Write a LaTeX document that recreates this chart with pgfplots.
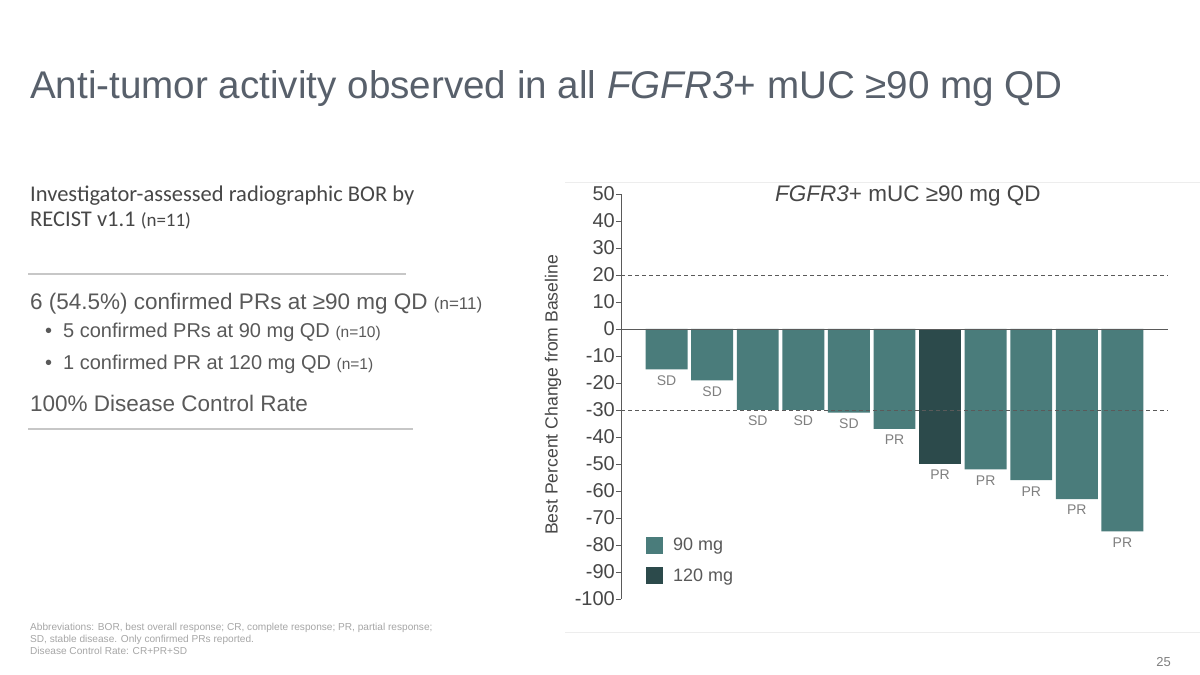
\documentclass[border=0pt]{standalone}
\usepackage{pgfplots}
\pgfplotsset{compat=1.18}
\usepackage{fontspec}
\setmainfont{Liberation Sans}
\newfontfamily\calibri{Carlito}
\definecolor{bar90}{HTML}{4A7C7B}
\definecolor{bar120}{HTML}{2C4A4B}
\definecolor{titlec}{HTML}{58606B}
\definecolor{txt}{HTML}{595959}
\definecolor{dark}{HTML}{474747}
\definecolor{axc}{HTML}{5A5A5A}
\definecolor{lbl}{HTML}{7F7F7F}
\definecolor{foot}{HTML}{A6A6A6}
\newcommand{\fs}[1]{\fontsize{#1bp}{#1bp}\selectfont}
\begin{document}
\begin{tikzpicture}
\useasboundingbox (0,0) rectangle (1200bp,675bp);
\fill[white] (0,0) rectangle (1200bp,675bp);
\begin{scope}[x=1bp,y=-1bp,shift={(0,675bp)}]
  \node[anchor=base west, inner sep=0, text=titlec] at (30,99) {\fs{38.6}Anti-tumor activity observed in all \textit{FGFR3}+ mUC ≥90 mg QD};
  \node[anchor=base west, inner sep=0, text=dark] at (30,202) {\calibri\fs{22.5}Investigator-assessed radiographic BOR by};
  \node[anchor=base west, inner sep=0, text=dark] at (30,227) {\calibri\fs{22.5}RECIST v1.1 {\fs{19}(n=11)}};
  \draw[black!22, line width=1.2bp] (28,274) -- (406,274);
  \node[anchor=base west, inner sep=0, text=txt] at (30,310) {\fs{22.5}6 (54.5\%) confirmed PRs at ≥90 mg QD {\fs{17}(n=11)}};
  \node[anchor=base west, inner sep=0, text=txt] at (45,338) {\fs{20}•};
  \node[anchor=base west, inner sep=0, text=txt] at (63,338) {\fs{20}5 confirmed PRs at 90 mg QD {\fs{15.5}(n=10)}};
  \node[anchor=base west, inner sep=0, text=txt] at (45,370) {\fs{20}•};
  \node[anchor=base west, inner sep=0, text=txt] at (63,370) {\fs{20}1 confirmed PR at 120 mg QD {\fs{15.5}(n=1)}};
  \node[anchor=base west, inner sep=0, text=txt] at (30,412) {\fs{22.5}100\% Disease Control Rate};
  \draw[black!22, line width=1.2bp] (28,429) -- (413,429);
  \node[anchor=base west, inner sep=0, text=foot] at (30,631) {\fs{10.1}Abbreviations: BOR, best overall response; CR, complete response; PR, partial response;};
  \node[anchor=base west, inner sep=0, text=foot] at (30,643) {\fs{10.1}SD, stable disease. Only confirmed PRs reported.};
  \node[anchor=base west, inner sep=0, text=foot] at (30,655) {\fs{10.1}Disease Control Rate: CR+PR+SD};
  \node[anchor=base east, inner sep=0, text=lbl] at (1171,667) {\fs{13}25};
  \draw[black!7, line width=1bp] (565,183) -- (1200,183);
  \draw[black!7, line width=1bp] (565,633) -- (1200,633);
  \node[anchor=base, inner sep=0, text=dark] at (908,202) {\fs{22.5}\textit{FGFR3}+ mUC ≥90 mg QD};
  \node[rotate=90, anchor=center, inner sep=0, text=dark] at (553,395) {\fs{17.6}Best Percent Change from Baseline};
\end{scope}
\begin{axis}[
  at={(621bp,76bp)}, anchor=south west,
  scale only axis, width=547bp, height=405bp,
  xmin=0, xmax=12, ymin=-100, ymax=50,
  axis x line=none, axis y line*=left,
  clip=false,
  y axis line style={axc, line width=0.9bp},
  ytick={-100,-90,-80,-70,-60,-50,-40,-30,-20,-10,0,10,20,30,40,50},
  yticklabels={-100,-90,-80,-70,-60,-50,-40,-30,-20,-10,0,10,20,30,40,50},
  tick align=outside, major tick length=5bp,
  ytick style={axc, line width=0.9bp},
  yticklabel style={font=\fs{20}, text=dark, inner sep=1bp},
  legend style={at={(0.0457,0.155)}, anchor=north west, draw=none, fill=none,
    font=\fs{18}, text=txt, inner sep=0pt, row sep=12bp,
    /tikz/every even column/.append style={column sep=0bp}},
  legend cell align=left,
]
\addplot[ybar, bar width=0.92, bar shift=0pt, fill=bar90, draw=none,
  point meta=explicit symbolic,
  nodes near coords,
  every node near coord/.append style={anchor=north, font=\fs{14}, text=lbl, inner sep=2bp, yshift=-4bp},
  legend image code/.code={\fill[bar90] (0bp,-8.5bp) rectangle (17bp,8.5bp);}]
  table[meta=lab] {
x y lab
1 -15 SD
2 -19 SD
3 -30 SD
4 -30 SD
5 -31 SD
6 -37 PR
8 -52 PR
9 -56 PR
10 -63 PR
11 -75 PR
};
\addlegendentry{\hspace{8bp}90 mg}
\addplot[ybar, bar width=0.92, bar shift=0pt, fill=bar120, draw=none,
  point meta=explicit symbolic,
  nodes near coords,
  every node near coord/.append style={anchor=north, font=\fs{14}, text=lbl, inner sep=2bp, yshift=-4bp},
  legend image code/.code={\fill[bar120] (0bp,-8.5bp) rectangle (17bp,8.5bp);}]
  table[meta=lab] {
x y lab
7 -50 PR
};
\addlegendentry{\hspace{8bp}120 mg}
\addplot[forget plot, axc, line width=0.8bp, dash pattern=on 4bp off 3bp] coordinates {(0,20) (12,20)};
\addplot[forget plot, axc, line width=0.8bp, dash pattern=on 4bp off 3bp] coordinates {(0,-30) (12,-30)};
\addplot[forget plot, axc, line width=0.9bp] coordinates {(0,0) (12,0)};
\end{axis}
\end{tikzpicture}
\end{document}
